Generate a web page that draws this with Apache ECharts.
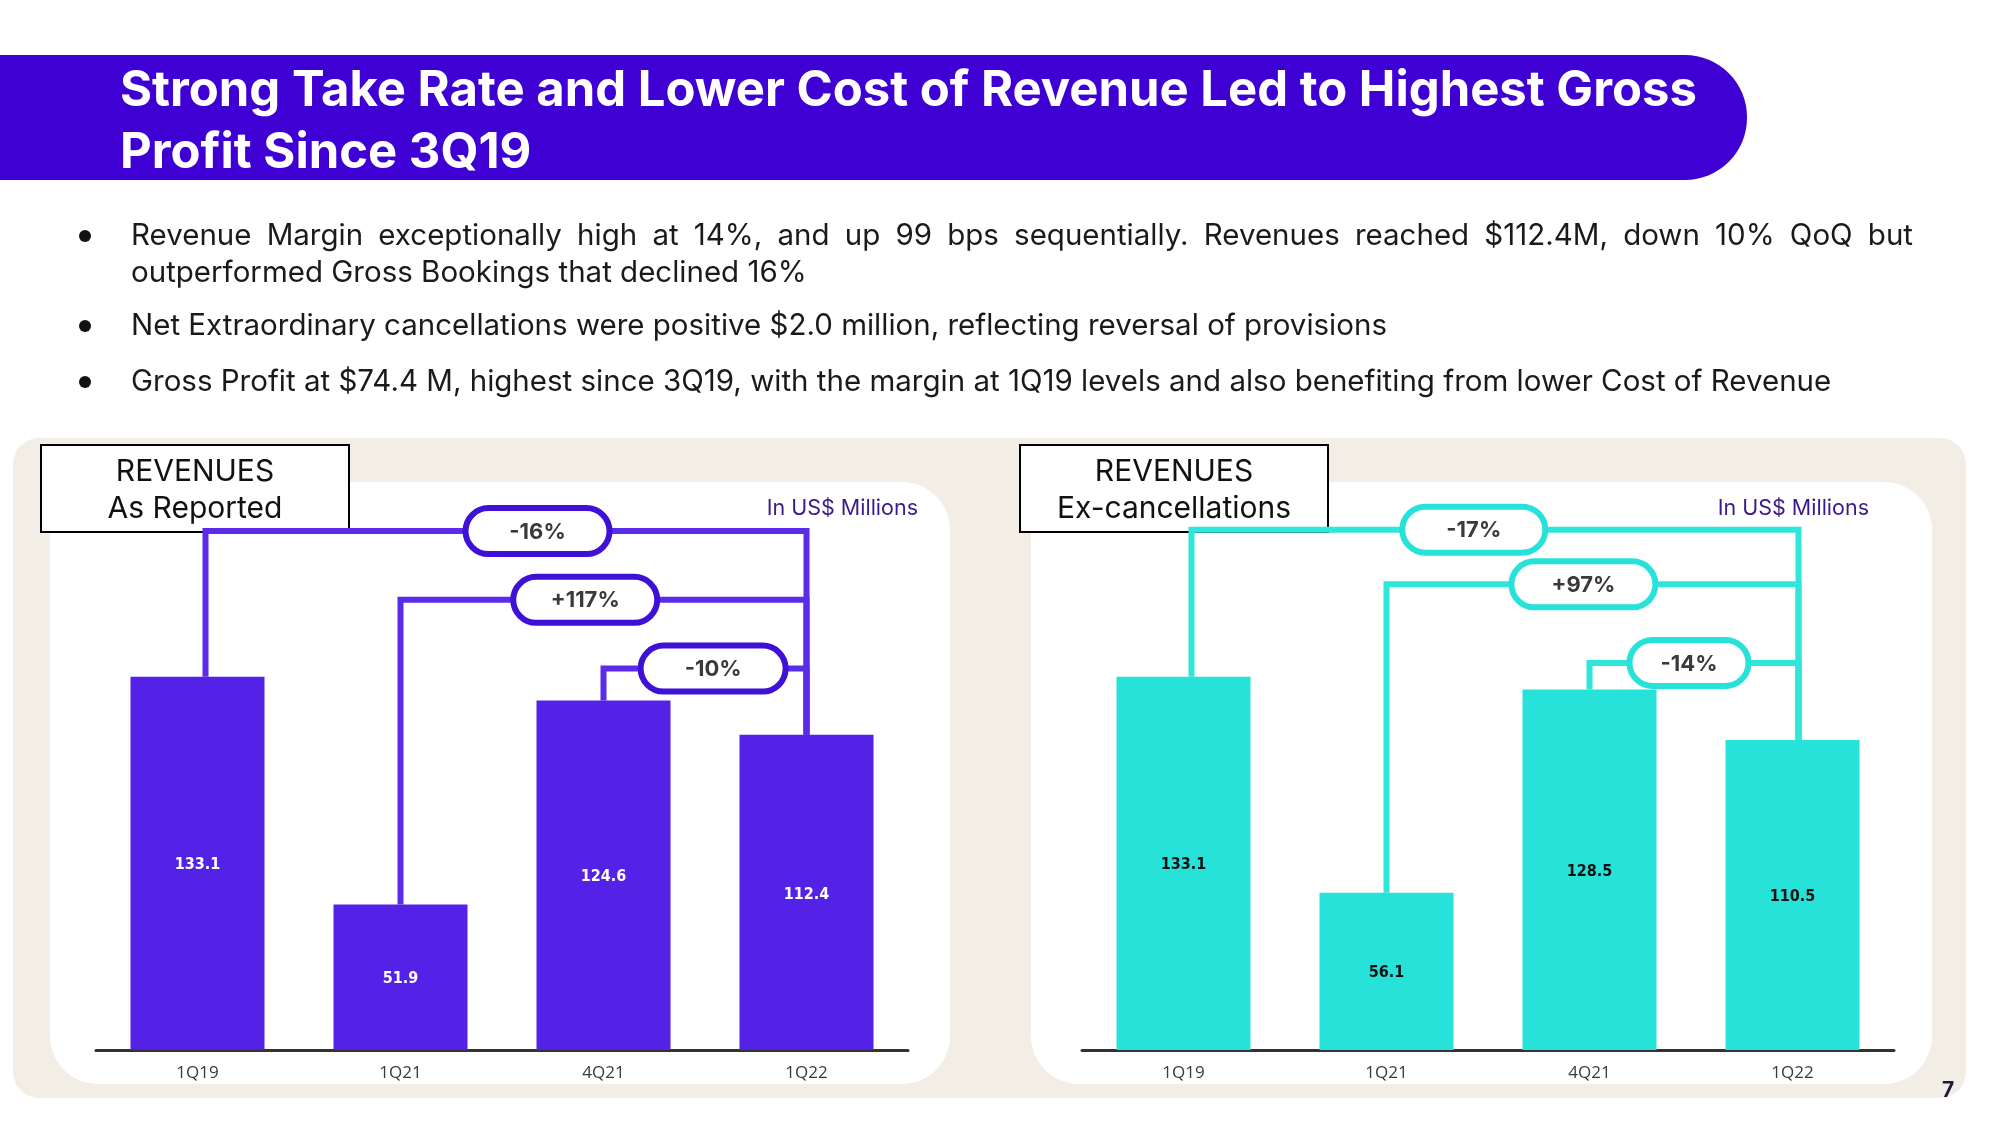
<!DOCTYPE html>
<html>
<head>
<meta charset="utf-8">
<script src="https://cdn.jsdelivr.net/npm/echarts@6/dist/echarts.min.js"></script>
<style>
html,body{margin:0;padding:0;background:#fff;}
#c{width:2000px;height:1125px;}
</style>
</head>
<body>
<div id="c"></div>
<script>
// ---- data ----
const categories = ['1Q19', '1Q21', '4Q21', '1Q22'];
const reportedValues = [133.1, 51.9, 124.6, 112.4];
const exCancelValues = [133.1, 56.1, 128.5, 110.5];
const reportedChanges = ['-16%', '+117%', '-10%'];
const exCancelChanges = ['-17%', '+97%', '-14%'];
const comparePairs = [[0, 3], [1, 3], [2, 3]];
const titleLines = ['Strong Take Rate and Lower Cost of Revenue Led to Highest Gross', 'Profit Since 3Q19'];
const bullets = [
  ['Revenue Margin exceptionally high at 14%, and up 99 bps sequentially. Revenues reached $112.4M, down 10% QoQ but', 'outperformed Gross Bookings that declined 16%'],
  ['Net Extraordinary cancellations were positive $2.0 million, reflecting reversal of provisions'],
  ['Gross Profit at $74.4 M, highest since 3Q19, with the margin at 1Q19 levels and also benefiting from lower Cost of Revenue']
];

// ---- annotation layout (styling) ----
const leftLevels = [185, 160.5, 136];
const leftPillX = [1.675, 1.91, 2.54];
const leftPillW = [144, 144, 145];
const leftOffsets = [[8, 0], [0, 0], [0, 0]];
const rightLevels = [185.5, 166, 138];
const rightPillX = [1.43, 1.97, 2.49];
const rightPillW = [143, 144, 119];
const rightOffsets = [[8, 6], [0, 6], [0, 6]];

const PURPLE = '#5421E7', PURPLE_D = '#3F10D6', TEAL = '#27E2D8', TEAL_L = '#2EE6DA';
const BULLET_FONT = '29.5px Inter, sans-serif';

function connectorData(values, levels, pillX, pillW, offs) {
  return comparePairs.map((p, i) => ({
    value: [p[0], p[1], levels[i], values[p[0]], values[p[1]], pillX[i], pillW[i], offs[i][0], offs[i][1]]
  }));
}

function makeRender(lineColor, borderColor, labels) {
  return function (params, api) {
    const from = api.value(0), to = api.value(1), lvl = api.value(2);
    const fv = api.value(3), tv = api.value(4), px = api.value(5), pw = api.value(6);
    const fo = api.value(7), to2 = api.value(8);
    const a = api.coord([from, fv]); a[0] += fo;
    const b = api.coord([from, lvl]); b[0] += fo;
    const c = api.coord([to, lvl]); c[0] += to2;
    const d = api.coord([to, tv]); d[0] += to2;
    const pc = api.coord([px, lvl]);
    const ph = 46;
    return {
      type: 'group',
      children: [
        { type: 'polyline', shape: { points: [a, b, c, d] },
          style: { stroke: lineColor, lineWidth: 6, fill: null, lineJoin: 'miter' } },
        { type: 'rect', shape: { x: pc[0] - pw / 2, y: pc[1] - ph / 2, width: pw, height: ph, r: ph / 2 },
          style: { fill: '#fff', stroke: borderColor, lineWidth: 6 }, z2: 10 },
        { type: 'text', x: pc[0], y: pc[1] + 1, z2: 11,
          style: { text: labels[params.dataIndex], fill: '#3a3a3a', font: 'bold 22px Inter, "Noto Sans", sans-serif',
                   align: 'center', verticalAlign: 'middle' } }
      ]
    };
  };
}

const measureCtx = document.createElement('canvas').getContext('2d');
measureCtx.font = BULLET_FONT;

const chart = echarts.init(document.getElementById('c'), null, { renderer: 'canvas' });

const gfx = [];
// title banner
gfx.push({ type: 'rect', shape: { x: 0, y: 55, width: 1747, height: 125, r: [0, 62, 62, 0] }, style: { fill: '#3F00D4' }, z: 0 });
gfx.push({ type: 'text', x: 120, y: 91, style: { text: titleLines[0], fill: '#fff', font: 'bold 49px Inter, sans-serif', verticalAlign: 'middle' }, z: 1 });
gfx.push({ type: 'text', x: 120, y: 153, style: { text: titleLines[1], fill: '#fff', font: 'bold 49px Inter, sans-serif', verticalAlign: 'middle' }, z: 1 });
// bullets
const bulletY = [[236, 273], [326], [382]];
const TEXT_L = 131, TEXT_R = 1913;
bullets.forEach((lines, i) => {
  gfx.push({ type: 'circle', shape: { cx: 85, cy: bulletY[i][0], r: 6 }, style: { fill: '#111' }, z: 1 });
  lines.forEach((t, j) => {
    const justify = (lines.length > 1 && j < lines.length - 1);
    if (!justify) {
      gfx.push({ type: 'text', x: TEXT_L, y: bulletY[i][j], style: { text: t, fill: '#1a1a1a', font: BULLET_FONT, verticalAlign: 'middle' }, z: 1 });
    } else {
      const words = t.split(' ');
      const widths = words.map(w => measureCtx.measureText(w).width);
      const total = widths.reduce((s, w) => s + w, 0);
      const gap = (TEXT_R - TEXT_L - total) / (words.length - 1);
      let x = TEXT_L;
      words.forEach((w, k) => {
        gfx.push({ type: 'text', x: x, y: bulletY[i][j], style: { text: w, fill: '#1a1a1a', font: BULLET_FONT, verticalAlign: 'middle' }, z: 1 });
        x += widths[k] + gap;
      });
    }
  });
});
// beige panel
gfx.push({ type: 'rect', shape: { x: 13, y: 438, width: 1953, height: 660, r: 26 }, style: { fill: '#F2EEE5' }, z: -10 });
// white panels
gfx.push({ type: 'rect', shape: { x: 50, y: 482, width: 900, height: 602, r: 48 }, style: { fill: '#fff' }, z: -9 });
gfx.push({ type: 'rect', shape: { x: 1031, y: 482, width: 901, height: 602, r: 48 }, style: { fill: '#fff' }, z: -9 });
// label boxes (below connector lines)
[[41, 'As Reported'], [1020, 'Ex-cancellations']].forEach(([x, sub]) => {
  gfx.push({ type: 'rect', shape: { x: x, y: 445, width: 308, height: 87 }, style: { fill: '#fff', stroke: '#000', lineWidth: 2 }, z: 1 });
  gfx.push({ type: 'text', x: x + 154, y: 472, style: { text: 'REVENUES', fill: '#111', font: '30px Inter, sans-serif', align: 'center', verticalAlign: 'middle' }, z: 2 });
  gfx.push({ type: 'text', x: x + 154, y: 509, style: { text: sub, fill: '#111', font: '30px Inter, sans-serif', align: 'center', verticalAlign: 'middle' }, z: 2 });
});
// units
gfx.push({ type: 'text', x: 918, y: 509, style: { text: 'In US$ Millions', fill: '#3D1A8A', font: '21.5px Inter, sans-serif', align: 'right', verticalAlign: 'middle' }, z: 1 });
gfx.push({ type: 'text', x: 1869, y: 509, style: { text: 'In US$ Millions', fill: '#3D1A8A', font: '21.5px Inter, sans-serif', align: 'right', verticalAlign: 'middle' }, z: 1 });
// page number
gfx.push({ type: 'text', x: 1948, y: 1091, style: { text: '7', fill: '#1c1c3c', font: 'bold 21px Inter, sans-serif', align: 'center', verticalAlign: 'middle' }, z: 1 });

const catAxis = (gi) => ({
  type: 'category', gridIndex: gi, data: categories,
  axisLine: { lineStyle: { color: '#333', width: 3 } },
  axisTick: { show: false },
  axisLabel: { color: '#3a3a3a', fontSize: 17, fontFamily: '"Open Sans", sans-serif', fontWeight: 400, margin: 15 }
});
const valX = (gi) => ({ type: 'value', gridIndex: gi, min: -0.5, max: 3.5, show: false });
const yAx = (gi) => ({ type: 'value', gridIndex: gi, min: 0, max: 200, show: false });

const option = {
  animation: false,
  backgroundColor: '#fff',
  graphic: { elements: gfx },
  grid: [
    { left: 96, top: 489, width: 812, height: 561 },
    { left: 1082, top: 489, width: 812, height: 561 }
  ],
  xAxis: [catAxis(0), catAxis(1), valX(0), valX(1)],
  yAxis: [yAx(0), yAx(1)],
  series: [
    { type: 'bar', xAxisIndex: 0, yAxisIndex: 0, data: reportedValues, barWidth: 134,
      itemStyle: { color: PURPLE }, z: 3,
      label: { show: true, position: 'inside', offset: [0, 2], color: '#fff', fontSize: 16, fontWeight: 'bold', fontFamily: '"DejaVu Sans Condensed", "Open Sans", sans-serif' } },
    { type: 'bar', xAxisIndex: 1, yAxisIndex: 1, data: exCancelValues, barWidth: 134,
      itemStyle: { color: TEAL }, z: 3,
      label: { show: true, position: 'inside', offset: [0, 2], color: '#111', fontSize: 16, fontWeight: 'bold', fontFamily: '"DejaVu Sans Condensed", "Open Sans", sans-serif' } },
    { type: 'custom', xAxisIndex: 2, yAxisIndex: 0, clip: false, z: 4,
      data: connectorData(reportedValues, leftLevels, leftPillX, leftPillW, leftOffsets),
      renderItem: makeRender('#5A2BE8', PURPLE_D, reportedChanges) },
    { type: 'custom', xAxisIndex: 3, yAxisIndex: 1, clip: false, z: 4,
      data: connectorData(exCancelValues, rightLevels, rightPillX, rightPillW, rightOffsets),
      renderItem: makeRender(TEAL_L, TEAL, exCancelChanges) }
  ]
};
chart.setOption(option);
</script>
</body>
</html>
